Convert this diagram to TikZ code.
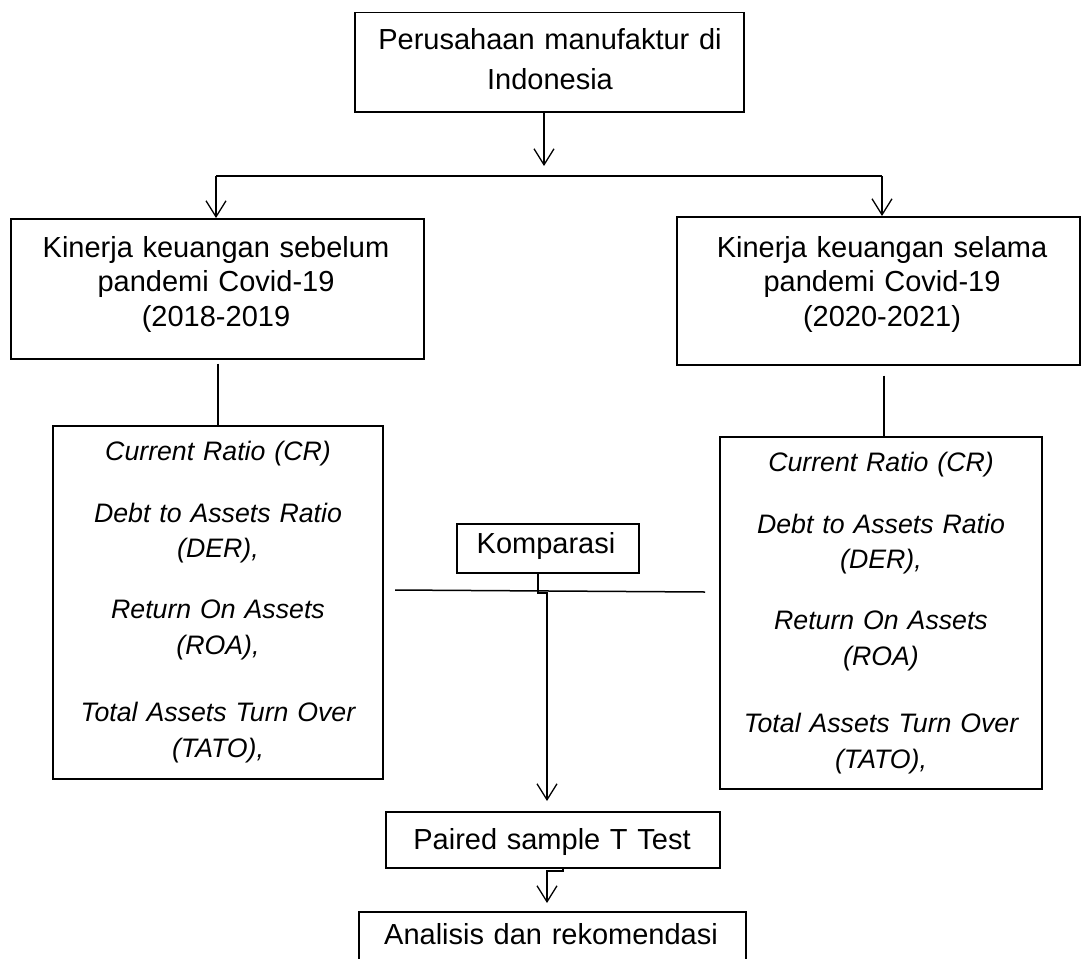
\documentclass[tikz,border=0pt]{standalone}
\usepackage{fontspec}
\setmainfont{Liberation Sans}
\usetikzlibrary{arrows.meta}
\begin{document}
\begin{tikzpicture}[x=1pt,y=-1pt,
  box/.style={draw, line width=1.5pt, inner sep=0pt, anchor=north west},
  txt/.style={inner sep=0pt, anchor=base, text width=420pt, align=center,
    font=\fontsize{29}{36}\selectfont},
  ital/.style={inner sep=0pt, anchor=base, text width=360pt, align=center,
    font=\fontsize{26.7}{35.5}\selectfont\itshape},
  line/.style={line width=1.5pt},
  arr/.style={line width=1.5pt, -{Straight Barb[length=16pt,width=20pt,line width=1.3pt]}}]
\useasboundingbox (0,0) rectangle (1083,958);
\clip (0,0) rectangle (1083,958);

% boxes
\node[box, minimum width=389pt, minimum height=99pt] (top) at (354,12) {};
\node[box, minimum width=413pt, minimum height=140pt] (lmid) at (10,218) {};
\node[box, minimum width=403pt, minimum height=148pt] (rmid) at (676,216) {};
\node[box, minimum width=330pt, minimum height=353pt] (llow) at (52,425) {};
\node[box, minimum width=322pt, minimum height=352pt] (rlow) at (719,436) {};
\node[box, minimum width=182pt, minimum height=49pt] (komp) at (456,523) {};
\node[box, minimum width=334pt, minimum height=56pt] (paired) at (385,811) {};
\node[box, minimum width=387pt, minimum height=90pt] (anal) at (358,911) {};

% texts
\node[txt, font=\fontsize{29}{40}\selectfont] (toptext) at (550,49) {Perusahaan manufaktur di\\Indonesia};
\node[txt, font=\fontsize{29}{34.5}\selectfont] (lmidtext) at (216,257) {Kinerja keuangan sebelum\\pandemi Covid-19\\(2018-2019};
\node[txt, font=\fontsize{29}{34.5}\selectfont] (rmidtext) at (882,257) {Kinerja keuangan selama\\pandemi Covid-19\\(2020-2021)};
\node[ital] (llowtext) at (218,460) {Current Ratio (CR)\\[26.5pt]Debt to Assets Ratio\\(DER),\\[25.5pt]Return On Assets\\(ROA),\\[32pt]Total Assets Turn Over\\(TATO),};
\node[ital] (rlowtext) at (881,471) {Current Ratio (CR)\\[26.5pt]Debt to Assets Ratio\\(DER),\\[25.5pt]Return On Assets\\(ROA)\\[32pt]Total Assets Turn Over\\(TATO),};
\node[txt] (komptext) at (546,553) {Komparasi};
\node[txt] (pairedtext) at (552,849) {Paired sample T Test};
\node[txt] (analtext) at (551,944) {Analisis dan rekomendasi};

% connectors
\coordinate (busL) at (216,176);
\coordinate (busM) at (544,176);
\coordinate (busR) at (882,176);
\draw[arr, shorten >=10pt] (top.south -| busM) -- (busM);
\draw[line] (busL) -- (busR);
\draw[arr] (busL) -- (busL |- lmid.north);
\draw[arr] (busR) -- (busR |- rmid.north);

\coordinate (lv) at (218,0);
\coordinate (rv) at (884,0);
\draw[line, shorten <=4pt] (lv |- lmid.south) -- (lv |- llow.north);
\draw[line, shorten <=10pt] (rv |- rmid.south) -- (rv |- rlow.north);

\coordinate (hL) at (395,590);
\coordinate (hR) at (705,592);
\draw[line] (hL) -- (hR);
\coordinate (cx1) at (538,593);
\coordinate (cx2) at (547,593);
\draw[arr, shorten >=10pt] (komp.south -| cx1) -- (cx1) -- (cx2) -- (cx2 |- paired.north);

\coordinate (px1) at (563,871);
\coordinate (px2) at (547,871);
\draw[arr, shorten >=8pt] (paired.south -| px1) -- (px1) -- (px2) -- (px2 |- anal.north);
\end{tikzpicture}
\end{document}
